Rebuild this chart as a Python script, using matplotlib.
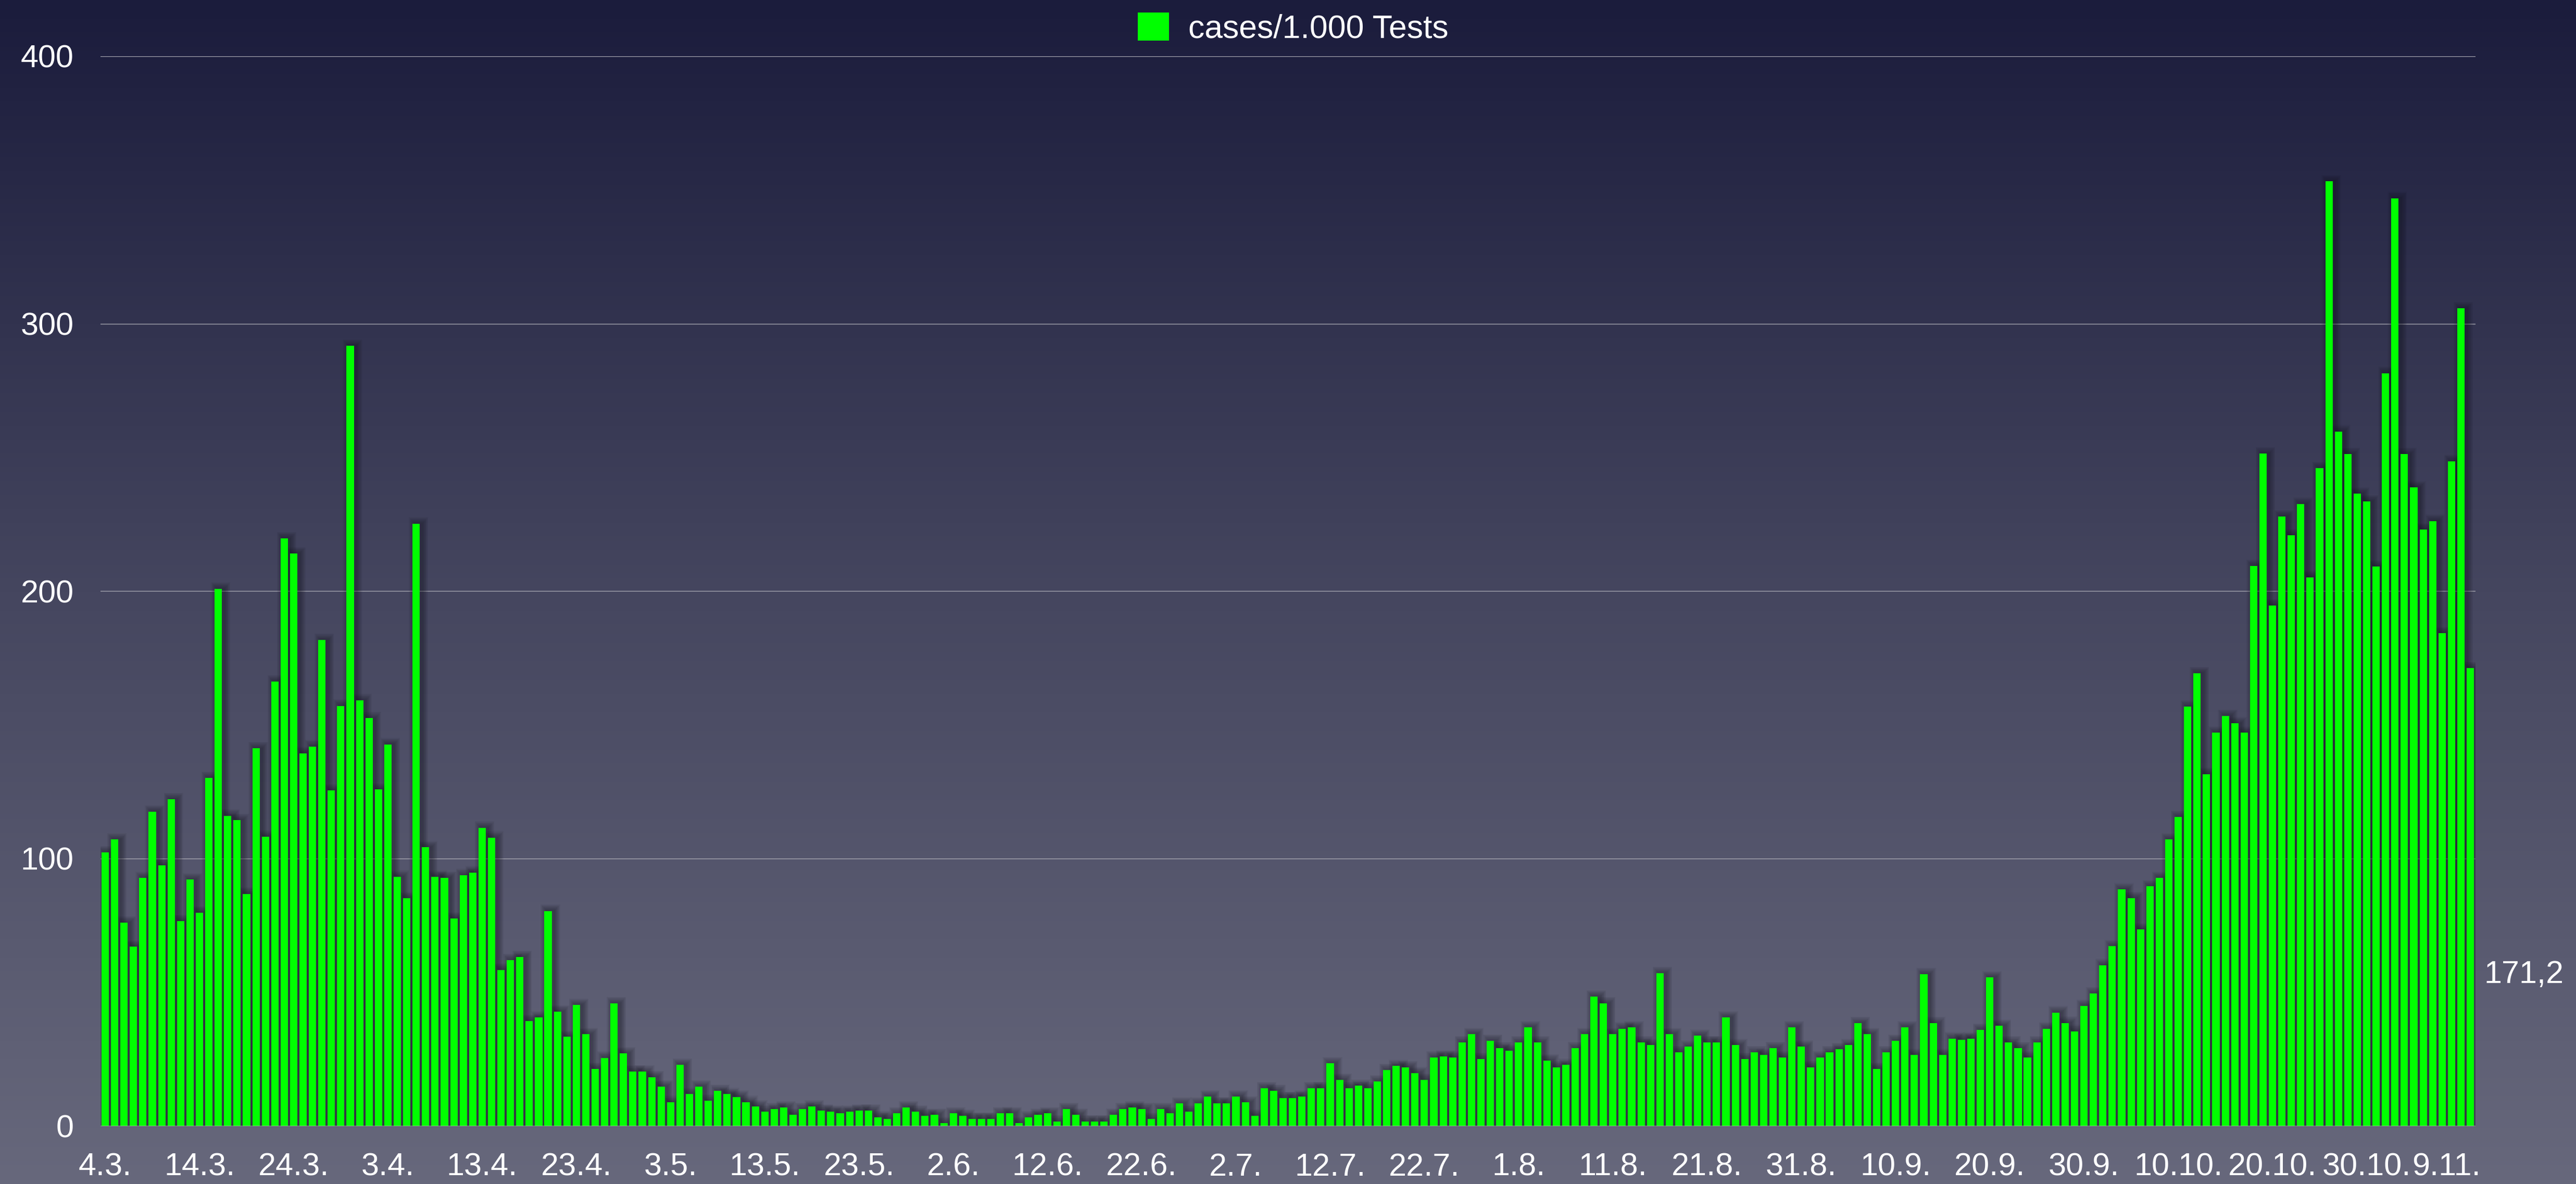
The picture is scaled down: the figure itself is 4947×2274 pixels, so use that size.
import matplotlib
matplotlib.use("Agg")
import matplotlib.pyplot as plt
import matplotlib.transforms as mtransforms
import numpy as np
from matplotlib.colors import LinearSegmentedColormap

plt.rcParams["font.family"] = ["Liberation Sans", "DejaVu Sans"]

# --- daily cases per 1.000 tests, 4.3. - 10.11. ---
march = [102.3, 107.1, 76.0, 67.1, 92.7, 117.5, 97.4, 122.2, 76.6, 92.1,
         79.7, 130.1, 200.9, 116.0, 114.4, 86.8, 141.2, 108.2, 166.2, 219.7,
         214.1, 139.4, 141.9, 181.7, 125.4, 157.1, 291.7, 159.2]
april = [152.5, 125.8, 142.7, 93.2, 85.1, 225.2, 104.2, 93.2, 92.8, 77.5,
         93.8, 94.8, 111.5, 107.8, 58.4, 62.0, 63.2, 39.2, 40.5, 80.4,
         42.7, 33.4, 45.2, 34.3, 21.3, 25.5, 45.8, 27.1, 20.3, 20.3]
may = [18.2, 14.7, 8.9, 22.9, 11.9, 14.7, 9.4, 13.1, 11.9, 10.9,
       8.9, 7.3, 5.3, 6.3, 6.9, 4.2, 6.3, 7.3, 5.7, 5.3,
       4.7, 5.3, 5.7, 5.7, 3.2, 2.6, 4.7, 6.9, 5.3, 3.8, 4.2]
june = [1.0, 4.7, 3.8, 2.6, 2.6, 2.6, 4.7, 4.7, 1.0, 3.2,
        4.2, 4.7, 1.6, 6.3, 4.2, 1.6, 1.6, 1.6, 4.2, 6.3,
        6.9, 6.3, 2.6, 6.3, 4.7, 8.4, 5.3, 8.4, 11.0, 8.4]
july = [8.4, 11.0, 8.8, 3.8, 14.1, 13.1, 10.4, 10.4, 11.0, 14.1,
        14.1, 23.4, 17.2, 14.1, 15.0, 14.1, 16.6, 20.9, 22.4, 21.9,
        19.7, 17.2, 25.6, 25.9, 25.6, 31.2, 34.3, 25.0, 31.8, 29.1, 28.1]
august = [31.2, 36.8, 31.2, 24.4, 21.9, 22.8, 29.1, 34.3, 48.3, 45.8,
          34.3, 36.4, 36.8, 31.2, 30.2, 57.1, 34.3, 27.5, 29.6, 33.7,
          31.2, 31.2, 40.5, 30.2, 25.0, 27.5, 26.5, 29.1, 25.6, 36.8, 29.6]
september = [21.9, 25.6, 27.5, 28.7, 30.2, 38.4, 34.3, 21.3, 27.5, 31.8,
             36.8, 26.5, 56.7, 38.4, 26.5, 32.7, 32.2, 32.7, 35.9, 55.5,
             37.4, 31.2, 29.1, 25.6, 31.2, 36.4, 42.4, 38.5, 35.4, 44.8]
october = [49.5, 60.1, 67.2, 88.4, 85.2, 73.4, 89.6, 92.7, 107.1, 115.5,
           156.8, 169.3, 131.6, 147.0, 153.3, 150.5, 147.0, 209.4, 251.4, 194.6,
           227.9, 220.8, 232.6, 205.2, 246.0, 353.2, 259.7, 251.2, 236.4, 233.5, 209.2]
november = [281.5, 346.9, 251.2, 238.7, 223.1, 226.2, 184.2, 248.6, 305.8, 171.2]

tick_labels = ["4.3.", "14.3.", "24.3.", "3.4.", "13.4.", "23.4.", "3.5.", "13.5.",
               "23.5.", "2.6.", "12.6.", "22.6.", "2.7.", "12.7.", "22.7.", "1.8.",
               "11.8.", "21.8.", "31.8.", "10.9.", "20.9.", "30.9.", "10.10.",
               "20.10.", "30.10.", "9.11."]
y_ticks = [0, 100, 200, 300, 400]
last_label = "171,2"
series_name = "cases/1.000 Tests"

values = np.array(march + april + may + june + july + august + september + october + november)
x = np.arange(len(values))

W, H = 4947, 2274
fig = plt.figure(figsize=(W / 100, H / 100), dpi=100)

# background gradient (navy at top -> slate grey at bottom)
bg = fig.add_axes([0, 0, 1, 1], zorder=-5)
grad = np.linspace(1, 0, 256).reshape(-1, 1)
cmap = LinearSegmentedColormap.from_list("bg", ["#67687c", "#45465f", "#1b1c3c"])
bg.imshow(grad, aspect="auto", cmap=cmap, extent=[0, 1, 0, 1])
bg.axis("off")

left, right = 193 / W, 4754 / W
bottom, top = 1 - 2162.5 / H, 1 - 108 / H
ax = fig.add_axes([left, bottom, right - left, top - bottom])
ax.set_facecolor("none")

# soft drop shadow behind the bars
for i in range(1, 9):
    ax.bar(x + 0.25, values + i * 0.3, width=0.78 + i * 0.16, color="#12121c",
           alpha=0.06, linewidth=0, zorder=2)

ax.bar(x, values, width=0.78, color="#00ff00", linewidth=0, zorder=3, label=series_name)

ax.set_xlim(-0.5, len(values) - 0.45)
ax.set_ylim(0, 400)
for v in y_ticks[1:]:
    ax.axhline(v, color="#a6a6b0", lw=1.0, zorder=1)
ax.axhline(0, color="#a8a8a8", lw=1.8, zorder=4)

ax.set_yticks(y_ticks)
ax.set_xticks(x[::10])
ax.set_xticklabels(tick_labels)
ax.tick_params(axis="both", length=0, labelcolor="white", labelsize=44)
ax.tick_params(axis="x", pad=37)
ax.tick_params(axis="y", pad=37)
for s in ax.spines.values():
    s.set_visible(False)

# last date label is pulled in a little so it stays inside the plot
last = ax.get_xticklabels()[-1]
last.set_transform(last.get_transform() +
                   mtransforms.ScaledTranslation(-20 / 72, 0, fig.dpi_scale_trans))

fig.legend(loc="center", bbox_to_anchor=(0.502, 0.976), frameon=False, fontsize=45,
           handlelength=0.95, handleheight=0.95, handletextpad=0.6,
           labelcolor="white", borderpad=0, borderaxespad=0)

fig.text(4770 / W, 1 - 1872 / H, last_label, color="white", fontsize=44,
         ha="left", va="center")

fig.savefig("out.png", dpi=100)
